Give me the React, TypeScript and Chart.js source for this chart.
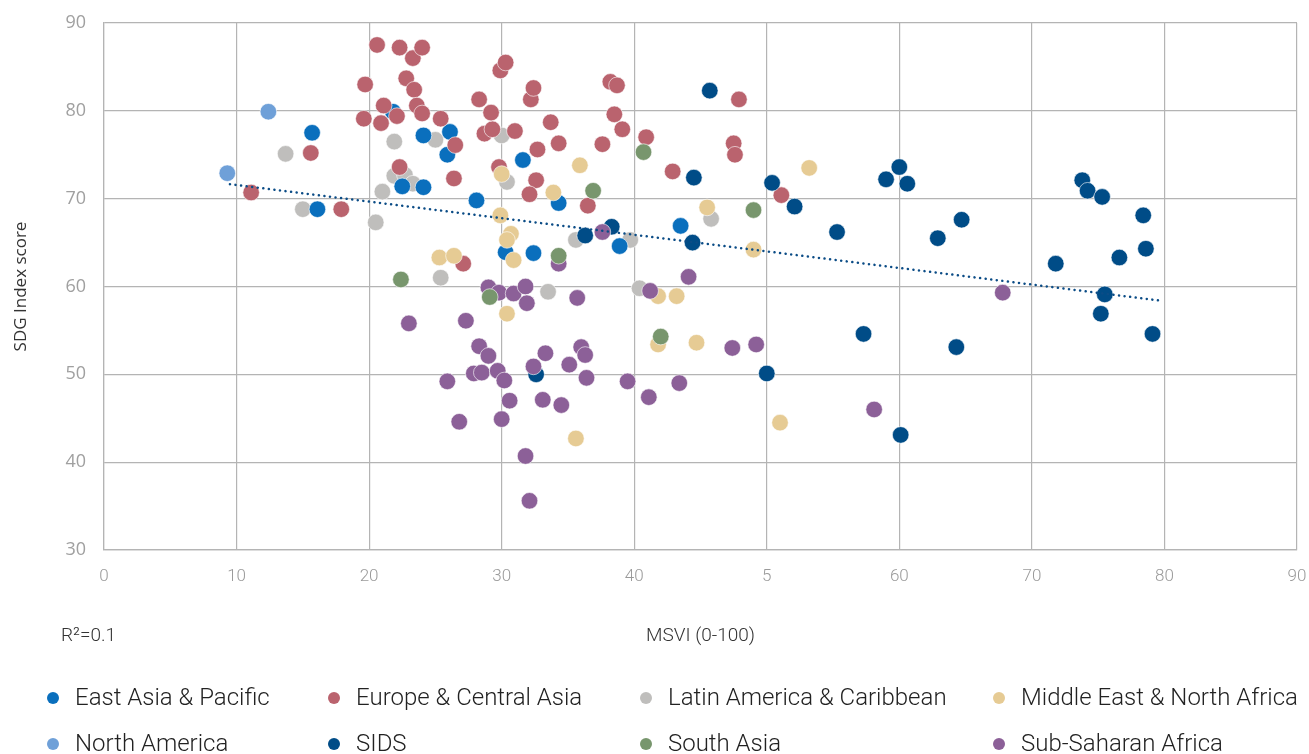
import React, { useEffect, useRef } from "react";
import { Chart, registerables } from "chart.js";

Chart.register(...registerables);

const xTickLabels = ["0", "10", "20", "30", "40", "5", "60", "70", "80", "90"];

const eapX = [15.7, 16.1, 21.8, 24.1, 26.1, 25.9, 22.5, 24.1, 31.6, 28.1, 34.3, 30.3, 32.4, 38.9, 43.5];
const eapY = [77.5, 68.8, 79.9, 77.2, 77.6, 75.0, 71.4, 71.3, 74.4, 69.8, 69.5, 63.9, 63.8, 64.6, 66.9];

const ecaX = [11.1, 15.6, 17.9, 19.7, 19.6, 20.6, 21.1, 20.9, 22.3, 22.1, 22.3, 22.8, 23.3, 23.4, 23.6, 24.0, 24.0, 25.4, 26.5, 26.4, 27.1, 28.3, 28.7, 29.3, 29.2, 29.9, 30.3, 29.8, 31.0, 32.2, 32.4, 32.7, 32.6, 32.1, 33.7, 34.3, 36.5, 37.6, 38.2, 38.7, 38.5, 39.1, 40.9, 42.9, 47.5, 47.6, 47.9, 51.1];
const ecaY = [70.7, 75.2, 68.8, 83.0, 79.1, 87.5, 80.6, 78.6, 87.2, 79.4, 73.6, 83.7, 86.0, 82.4, 80.6, 79.7, 87.2, 79.1, 76.1, 72.3, 62.6, 81.3, 77.4, 77.9, 79.8, 84.6, 85.5, 73.6, 77.7, 81.3, 82.6, 75.6, 72.1, 70.5, 78.7, 76.3, 69.2, 76.2, 83.3, 82.9, 79.6, 77.9, 77.0, 73.1, 76.3, 75.0, 81.3, 70.4];

const lacX = [13.7, 15.0, 20.5, 21.0, 21.9, 21.9, 22.7, 23.3, 25.0, 25.4, 30.0, 30.4, 33.5, 35.6, 39.7, 40.4, 45.8];
const lacY = [75.1, 68.8, 67.3, 70.8, 76.5, 72.6, 72.7, 71.7, 76.7, 61.0, 77.2, 71.9, 59.4, 65.3, 65.3, 59.8, 67.7];

const menaX = [25.3, 26.4, 30.0, 29.9, 30.7, 30.4, 30.9, 30.4, 33.9, 35.9, 35.6, 41.8, 43.2, 41.8, 44.7, 45.5, 49.0, 51.0, 53.2];
const menaY = [63.3, 63.5, 72.8, 68.1, 66.0, 65.3, 63.0, 56.9, 70.7, 73.8, 42.7, 58.9, 58.9, 53.4, 53.6, 69.0, 64.2, 44.5, 73.5];

const naX = [9.3, 12.4];
const naY = [72.9, 79.9];

const sidsX = [32.6, 36.3, 38.3, 44.4, 44.5, 45.7, 50.0, 50.4, 52.1, 55.3, 57.3, 59.0, 60.0, 60.6, 60.1, 62.9, 64.3, 64.7, 71.8, 73.8, 74.2, 75.3, 75.2, 75.5, 76.6, 78.4, 78.6, 79.1];
const sidsY = [50.0, 65.8, 66.8, 65.0, 72.4, 82.3, 50.1, 71.8, 69.1, 66.2, 54.6, 72.2, 73.6, 71.7, 43.1, 65.5, 53.1, 67.6, 62.6, 72.1, 70.9, 70.2, 56.9, 59.1, 63.3, 68.1, 64.3, 54.6];

const saX = [22.4, 29.1, 34.3, 36.9, 40.7, 42.0, 49.0];
const saY = [60.8, 58.8, 63.5, 70.9, 75.3, 54.3, 68.7];

const ssaX = [23.0, 25.9, 26.8, 27.3, 27.9, 28.3, 28.5, 29.0, 29.0, 29.7, 29.8, 30.0, 30.2, 30.6, 30.9, 31.8, 31.9, 31.8, 32.1, 32.4, 33.1, 33.3, 34.3, 34.5, 35.1, 35.7, 36.0, 36.3, 36.4, 37.6, 39.5, 41.1, 41.2, 43.4, 44.1, 47.4, 49.2, 58.1, 67.8];
const ssaY = [55.8, 49.2, 44.6, 56.1, 50.1, 53.2, 50.2, 52.1, 59.9, 50.4, 59.3, 44.9, 49.3, 47.0, 59.2, 60.0, 58.1, 40.7, 35.6, 50.9, 47.1, 52.4, 62.6, 46.5, 51.1, 58.7, 53.1, 52.2, 49.6, 66.2, 49.2, 47.4, 59.5, 49.0, 61.1, 53.0, 53.4, 46.0, 59.3];

const trendX = [9.5, 79.8];
const trendY = [71.65, 58.37];

const seriesNames = [
  "East Asia & Pacific",
  "Europe & Central Asia",
  "Latin America & Caribbean",
  "Middle East & North Africa",
  "North America",
  "SIDS",
  "South Asia",
  "Sub-Saharan Africa",
];
const seriesColors = ["#0A6FBD", "#BA636E", "#BFBEBC", "#E6CB94", "#6FA0D8", "#004C87", "#78966D", "#8C6098"];
const seriesX = [eapX, ecaX, lacX, menaX, naX, sidsX, saX, ssaX];
const seriesY = [eapY, ecaY, lacY, menaY, naY, sidsY, saY, ssaY];
// draw order: lower = on top
const seriesOrder = [6, 5, 8, 4, 3, 3, 1, 2];

const toPts = (xs: number[], ys: number[]) => xs.map((x, i) => ({ x, y: ys[i] }));

const legendCols = [53, 334, 646, 999];
const legendRows = [698, 744];

const overlayPlugin = {
  id: "overlay",
  afterDraw(chart: any) {
    const ctx = chart.ctx;
    ctx.save();
    ctx.fillStyle = "#333333";
    ctx.font = "300 19px Roboto";
    ctx.textBaseline = "middle";
    ctx.textAlign = "left";
    ctx.fillText("R\u00B2=0.1", 61, 636);
    ctx.font = "300 24px Roboto";
    seriesNames.forEach((name, i) => {
      const cx = legendCols[i % 4];
      const cy = legendRows[Math.floor(i / 4)];
      ctx.beginPath();
      ctx.fillStyle = seriesColors[i];
      ctx.arc(cx, cy, 6, 0, Math.PI * 2);
      ctx.fill();
      ctx.fillStyle = "#222222";
      ctx.fillText(name, cx + 22, cy + 1);
    });
    ctx.restore();
  },
};

export default function App() {
  const ref = useRef<HTMLCanvasElement | null>(null);
  useEffect(() => {
    if (!ref.current) return;
    const datasets: any[] = [
      {
        type: "line",
        label: "trend",
        data: toPts(trendX, trendY),
        borderColor: "#0B4C86",
        borderWidth: 2.5,
        borderDash: [0.1, 5.5],
        borderCapStyle: "round",
        pointRadius: 0,
        fill: false,
        order: 0,
      },
      ...seriesNames.map((name, i) => ({
        type: "scatter",
        label: name,
        data: toPts(seriesX[i], seriesY[i]),
        backgroundColor: seriesColors[i],
        borderColor: "rgba(255,255,255,0.8)",
        borderWidth: 0.75,
        pointRadius: 8.3,
        pointHoverRadius: 8.3,
        order: seriesOrder[i],
      })),
    ];
    const chart = new Chart(ref.current, {
      type: "scatter",
      data: { datasets },
      options: {
        responsive: false,
        animation: false,
        events: [],
        layout: { padding: { top: 23, right: 12, left: 0, bottom: 0 } },
        plugins: { legend: { display: false }, tooltip: { enabled: false } },
        scales: {
          x: {
            type: "linear",
            min: 0,
            max: 90,
            ticks: {
              stepSize: 10,
              color: "#9a9a9a",
              font: { family: "Roboto", size: 17, weight: "300" },
              padding: 17,
              callback: (v: any) => xTickLabels[Math.round(Number(v) / 10)],
            },
            grid: { color: "#b4b4b4", lineWidth: 1.2, drawTicks: false },
            border: { display: true, color: "#b4b4b4", width: 1.2 },
            title: {
              display: true,
              text: "MSVI (0-100)",
              color: "#333333",
              font: { family: "Roboto", size: 19, weight: "300" },
              padding: { top: 0, bottom: 106 },
            },
            afterFit: (s: any) => {
              s.height = 204;
              s.paddingLeft = 0;
              s.paddingRight = 0;
            },
          },
          y: {
            type: "linear",
            min: 30,
            max: 90,
            ticks: {
              stepSize: 10,
              color: "#a0a0a0",
              font: { family: "Open Sans", size: 18, weight: "400" },
              padding: 18,
            },
            grid: { color: "#b4b4b4", lineWidth: 1.2, drawTicks: false },
            border: { display: true, color: "#b4b4b4", width: 1.2 },
            title: {
              display: true,
              text: "SDG Index score",
              color: "#333333",
              font: { family: "Open Sans", size: 17 },
              padding: { top: 11, bottom: 0 },
            },
            afterFit: (s: any) => {
              s.width = 104;
              s.paddingTop = 0;
              s.paddingBottom = 0;
            },
          },
        },
      },
      plugins: [overlayPlugin],
    } as any);
    return () => chart.destroy();
  }, []);
  return (
    <div style={{ position: "absolute", left: 0, top: 0, width: 1309, height: 754, background: "#fff" }}>
      <canvas ref={ref} width={1309} height={754} />
    </div>
  );
}
